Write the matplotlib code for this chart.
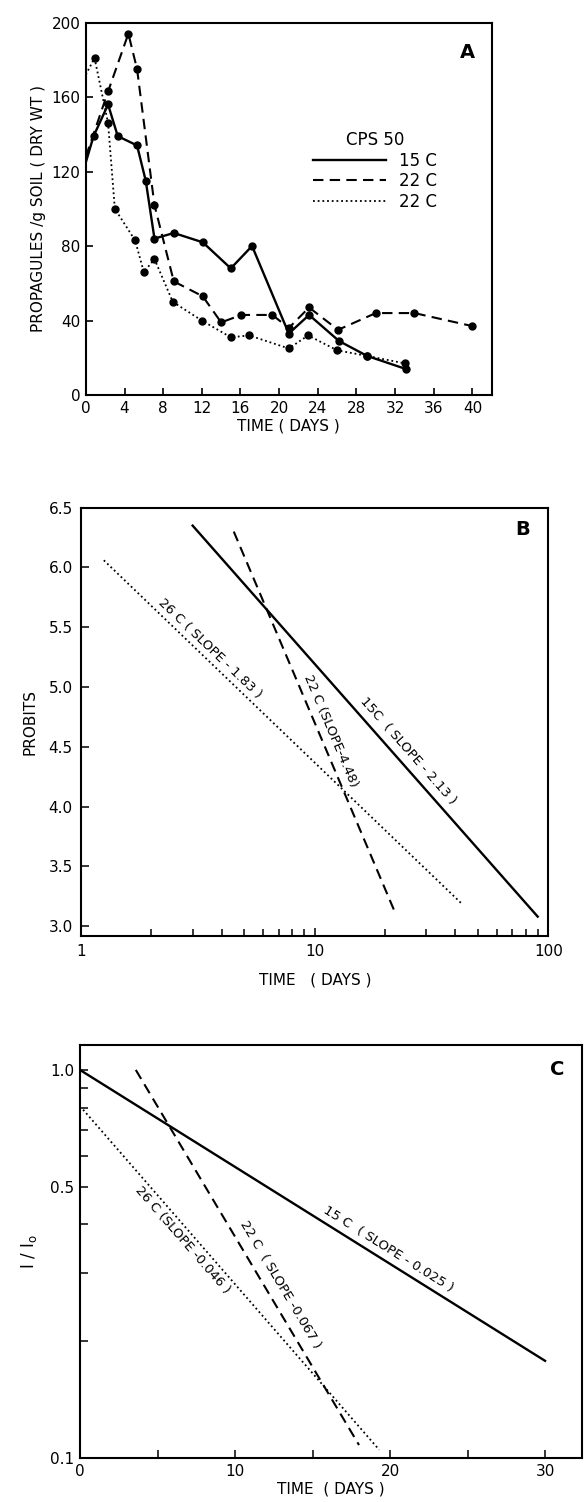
import numpy as np
import matplotlib
matplotlib.use("Agg")
import matplotlib.pyplot as plt
from matplotlib.ticker import FixedLocator, NullFormatter, FixedFormatter

plt.rcParams['font.family'] = ['DejaVu Sans']

# ---------------- Panel A data ----------------
a_15_days = [0, 0.8, 2.3, 3.3, 5.3, 6.2, 7.1, 9.1, 12.1, 15.0, 17.2, 21.0, 23.1, 26.2, 29.1, 33.1]
a_15_vals = [125, 139, 156, 139, 134, 115, 84, 87, 82, 68, 80, 33, 43, 29, 21, 14]
a_22_days = [0, 2.3, 4.4, 5.3, 7.1, 9.1, 12.1, 14.0, 16.1, 19.3, 21.0, 23.1, 26.1, 30.0, 34.0, 40.0]
a_22_vals = [128, 163, 194, 175, 102, 61, 53, 39, 43, 43, 36, 47, 35, 44, 44, 37]
a_26_days = [0, 0.9, 2.3, 3.0, 5.1, 6.0, 7.1, 9.0, 12.0, 15.0, 16.9, 21.0, 23.0, 26.0, 29.1, 33.0]
a_26_vals = [172, 181, 146, 100, 83, 66, 73, 50, 40, 31, 32, 25, 32, 24, 21, 17]
a_legend_labels = ["15 C", "22 C", "22 C"]
a_xticks = [0, 4, 8, 12, 16, 20, 24, 28, 32, 36, 40]
a_yticks = [0, 40, 80, 120, 160, 200]

# ---------------- Panel B data (fitted probit lines) ----------------
b_labels = ["15C  ( SLOPE - 2.13 )", "22 C (SLOPE-4.48)", "26 C ( SLOPE - 1.83 )"]
b_x_start = [3.0, 4.5, 1.25]
b_x_end = [90.0, 22.0, 43.0]
b_y_start = [6.35, 6.30, 6.06]
b_y_end = [3.08, 3.12, 3.18]
b_yticks = [3.0, 3.5, 4.0, 4.5, 5.0, 5.5, 6.0, 6.5]

# ---------------- Panel C data (fitted decay lines) ----------------
c_labels = ["15 C  ( SLOPE - 0.025 )", "22 C  ( SLOPE -0.067 )", "26 C (SLOPE -0.046 )"]
c_x_start = [0.0, 3.6, 0.2]
c_x_end = [30.0, 18.0, 19.3]
c_y_start = [1.0, 1.0, 0.79]
c_y_end = [0.178, 0.108, 0.105]
c_xticks = [0, 10, 20, 30]
c_yticks = [0.1, 0.5, 1.0]

styles = [dict(ls='-', lw=1.7), dict(ls=(0, (5, 3)), lw=1.5), dict(ls=(0, (1, 1.6)), lw=1.3)]

fig = plt.figure(figsize=(5.84, 15.02), dpi=100)
FS = 11

# ================= Panel A =================
axA = fig.add_axes([0.147, 0.737, 0.695, 0.248])
for d, v, st in zip([a_15_days, a_22_days, a_26_days], [a_15_vals, a_22_vals, a_26_vals], styles):
    axA.plot(d, v, color='black', marker='o', ms=5, markevery=list(range(1, len(d))), **st)
axA.set_xlim(0, 42)
axA.set_ylim(0, 200)
axA.set_xticks(a_xticks)
axA.set_yticks(a_yticks)
axA.tick_params(direction='in', length=5, width=1.2, labelsize=FS, pad=4)
axA.set_xlabel("TIME ( DAYS )", fontsize=FS, labelpad=2)
axA.set_ylabel("PROPAGULES /g SOIL ( DRY WT )", fontsize=FS, labelpad=4)
for s in axA.spines.values():
    s.set_linewidth(1.5)
hs = [plt.Line2D([], [], color='black', **st) for st in styles]
leg = axA.legend(hs, a_legend_labels, title="CPS 50", loc='upper left',
                 bbox_to_anchor=(0.53, 0.74), frameon=False, fontsize=FS + 1,
                 title_fontsize=FS + 1, handlelength=4.4, handletextpad=0.8,
                 labelspacing=0.15, borderpad=0.2)
axA.text(0.96, 0.92, "A", transform=axA.transAxes, fontsize=14, fontweight='bold',
         ha='right', va='center')


def place_label(ax, x0, x1, y0, y1, xt, yt, text):
    p0 = ax.transData.transform((x0, y0))
    p1 = ax.transData.transform((x1, y1))
    ang = np.degrees(np.arctan2(p1[1] - p0[1], p1[0] - p0[0]))
    ax.text(xt, yt, text, rotation=ang, rotation_mode='anchor', ha='center',
            va='center', fontsize=9.5)


# ================= Panel B =================
axB = fig.add_axes([0.139, 0.377, 0.800, 0.285])
axB.set_xscale('log')
axB.set_xlim(1, 100)
axB.set_ylim(2.92, 6.5)
for xs, xe, ys, ye, st in zip(b_x_start, b_x_end, b_y_start, b_y_end, styles):
    axB.plot([xs, xe], [ys, ye], color='black', **st)
axB.set_yticks(b_yticks)
axB.set_yticklabels([f"{v:.1f}" for v in b_yticks])
axB.xaxis.set_major_locator(FixedLocator([1, 10, 100]))
axB.xaxis.set_major_formatter(FixedFormatter(["1", "10", "100"]))
axB.xaxis.set_minor_locator(FixedLocator([2, 3, 4, 5, 6, 7, 8, 9, 20, 30, 40, 50, 60, 70, 80, 90]))
axB.xaxis.set_minor_formatter(NullFormatter())
axB.tick_params(which='both', direction='in', width=1.1, labelsize=FS, pad=6)
axB.tick_params(which='major', length=6)
axB.tick_params(which='minor', length=5)
axB.set_xlabel("TIME   ( DAYS )", fontsize=FS, labelpad=10)
axB.set_ylabel("PROBITS", fontsize=FS, labelpad=8)
for s in axB.spines.values():
    s.set_linewidth(1.5)
axB.text(0.96, 0.95, "B", transform=axB.transAxes, fontsize=14, fontweight='bold',
         ha='right', va='center')
b_text_pos = [(25.2, 4.47), (11.7, 4.63), (3.57, 5.32)]
for i in range(3):
    place_label(axB, b_x_start[i], b_x_end[i], b_y_start[i], b_y_end[i],
                b_text_pos[i][0], b_text_pos[i][1], b_labels[i])

# ================= Panel C =================
axC = fig.add_axes([0.137, 0.0293, 0.860, 0.275])
axC.set_yscale('log')
axC.set_xlim(0, 32.4)
axC.set_ylim(0.1, 1.16)
for xs, xe, ys, ye, st in zip(c_x_start, c_x_end, c_y_start, c_y_end, styles):
    axC.plot([xs, xe], [ys, ye], color='black', **st)
axC.yaxis.set_major_locator(FixedLocator(c_yticks))
axC.yaxis.set_major_formatter(FixedFormatter([f"{v:.1f}" for v in c_yticks]))
axC.yaxis.set_minor_locator(FixedLocator([0.2, 0.3, 0.4, 0.6, 0.7, 0.8, 0.9]))
axC.yaxis.set_minor_formatter(NullFormatter())
axC.set_xticks(c_xticks)
axC.xaxis.set_minor_locator(FixedLocator([5, 15, 25]))
axC.tick_params(which='both', direction='in', width=1.1, labelsize=FS, pad=4)
axC.tick_params(which='major', length=6)
axC.tick_params(which='minor', length=6)
axC.set_xlabel("TIME  ( DAYS )", fontsize=FS, labelpad=2)
axC.set_ylabel(r"I / I$_\mathrm{o}$", fontsize=FS + 1, labelpad=8)
for s in axC.spines.values():
    s.set_linewidth(1.5)
axC.text(0.965, 0.94, "C", transform=axC.transAxes, fontsize=14, fontweight='bold',
         ha='right', va='center')
c_text_pos = [(19.9, 0.345), (12.9, 0.28), (6.6, 0.365)]
for i in range(3):
    place_label(axC, c_x_start[i], c_x_end[i], c_y_start[i], c_y_end[i],
                c_text_pos[i][0], c_text_pos[i][1], c_labels[i])

fig.savefig("out.png", dpi=100)
